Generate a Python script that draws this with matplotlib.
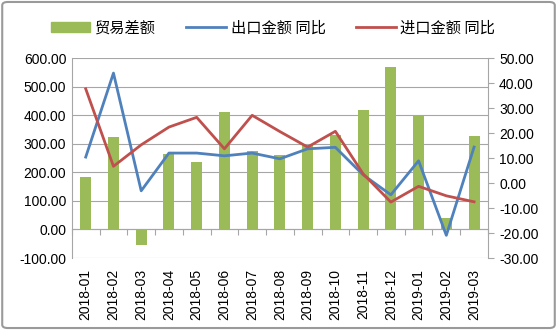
import numpy as np
import matplotlib.pyplot as plt
from matplotlib.patches import Patch, FancyBboxPatch
from matplotlib.lines import Line2D

plt.rcParams['font.family'] = ['Liberation Sans', 'Noto Sans CJK SC', 'DejaVu Sans']

months = ['2018-01', '2018-02', '2018-03', '2018-04', '2018-05', '2018-06', '2018-07',
          '2018-08', '2018-09', '2018-10', '2018-11', '2018-12', '2019-01', '2019-02',
          '2019-03']
# trade balance (left axis)
balance = [184, 324, -56, 265, 235, 410, 276, 262, 297, 332, 420, 569, 399, 41, 326]
# export / import growth, % yoy (right axis)
export_yoy = [10.4, 44.0, -3.1, 12.0, 12.0, 10.9, 12.0, 9.7, 13.7, 14.3, 3.3, -4.7, 8.9, -20.9, 14.4]
import_yoy = [37.7, 6.7, 15.3, 22.4, 26.3, 13.7, 27.1, 20.6, 14.4, 20.7, 3.7, -7.6, -1.3, -5.1, -7.5]

green = '#9BBB59'
blue = '#4F81BD'
red = '#C0504D'
grid_c = '#A6A6A6'

fig = plt.figure(figsize=(5.57, 3.30), dpi=100)
ax = fig.add_axes([0.129, 0.218, 0.747, 0.606])
x = np.arange(len(months))

ax.bar(x, balance, width=0.4, color=green, zorder=2)
ax.set_ylim(-100, 600)
ax.set_yticks(np.arange(-100, 601, 100))
ax.set_yticklabels(['%.2f' % v for v in np.arange(-100, 601, 100)])
ax.set_xlim(-0.5, len(months) - 0.5)
ax.set_xticks(x)
ax.set_xticklabels(months, rotation=90)
ax.yaxis.grid(True, color=grid_c, lw=0.8, zorder=0)
ax.tick_params(axis='both', length=0, labelsize=10, pad=4)
ax.tick_params(axis='x', pad=8)
for s in ['top', 'right', 'bottom']:
    ax.spines[s].set_visible(False)
ax.spines['left'].set_color(grid_c)

# category axis crossing at zero
zero = ax.secondary_xaxis(100 / 700)
zero.set_xticks(np.arange(-0.5, len(months), 1.0))
zero.tick_params(length=4, color=grid_c, labelbottom=False, direction='out')
zero.spines['bottom'].set_color(grid_c)

ax2 = ax.twinx()
ax2.plot(x, export_yoy, color=blue, lw=2, zorder=3)
ax2.plot(x, import_yoy, color=red, lw=2, zorder=3)
ax2.set_ylim(-30, 50)
ax2.set_yticks(np.arange(-30, 51, 10))
ax2.set_yticklabels(['%.2f' % v for v in np.arange(-30, 51, 10)])
ax2.tick_params(axis='y', length=4, color=grid_c, labelsize=10, pad=4)
for s in ['top', 'left', 'bottom']:
    ax2.spines[s].set_visible(False)
ax2.spines['right'].set_color(grid_c)

handles = [Patch(color=green), Line2D([], [], color=blue, lw=2), Line2D([], [], color=red, lw=2)]
labels = ['贸易差额', '出口金额 同比', '进口金额 同比']
fig.legend(handles, labels, loc='center', bbox_to_anchor=(0.49, 0.915), ncol=3, frameon=False,
           prop={'family': ['Noto Sans CJK SC', 'DejaVu Sans'], 'size': 11},
           handlelength=2.6, handleheight=0.6, columnspacing=2.0, handletextpad=0.3)

fig.patches.append(FancyBboxPatch((0.004, 0.006), 0.992, 0.988, boxstyle='round,pad=0,rounding_size=0.01',
                                  transform=fig.transFigure, fill=False, ec='#9A9A9A', lw=1.5))

fig.savefig('out.png', dpi=100)
